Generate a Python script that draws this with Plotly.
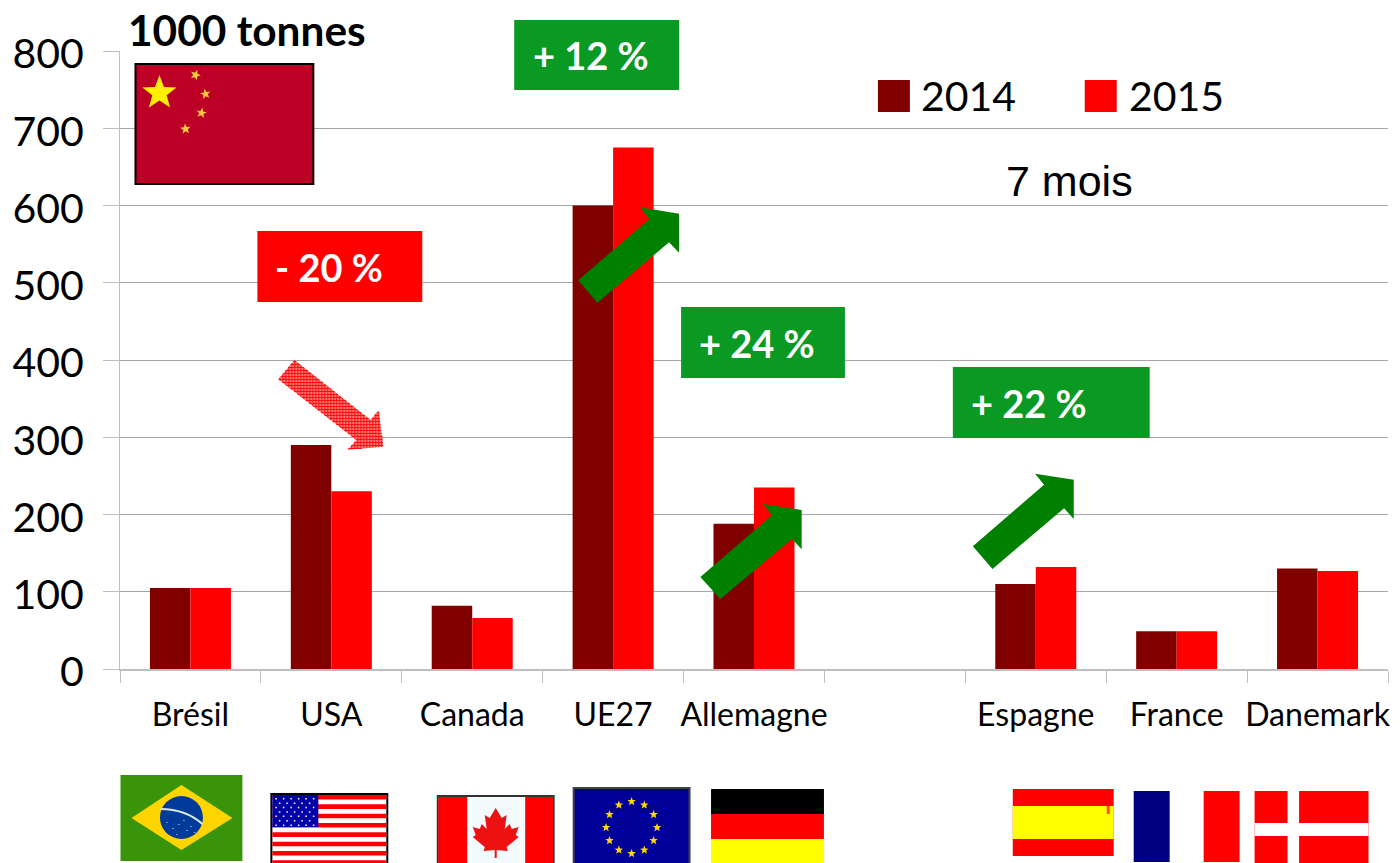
import math
import plotly.graph_objects as go

# ---- data ----
categories = ["Brésil", "USA", "Canada", "UE27", "Allemagne", " ", "Espagne", "France", "Danemark"]
values_2014 = [105, 290, 82, 600, 188, None, 110, 49, 130]
values_2015 = [105, 230, 66, 675, 235, None, 132, 49, 127]
series_names = ["2014", "2015"]
unit_label = "1000 tonnes"
period_label = "7 mois"
y_ticks = [0, 100, 200, 300, 400, 500, 600, 700, 800]

# ---- styles ----
DARK = "#800000"
RED = "#FF0000"
GREEN_BOX = "#0A9A24"
GREEN_ARROW = "#008000"
GRID = "#A6A6A6"
AXIS = "#BFBFBF"
FONT = "Lato"
L, R, T, B = 119.5, 1388.5, 51, 669


def X(x):
    return (x - L) / (R - L)


def Y(y):
    return (B - y) / (B - T)


shapes = []
annotations = []


def rect(x0, y0, x1, y1, fill, line=None, lw=0):
    shapes.append(dict(type="rect", xref="paper", yref="paper", layer="above",
                       x0=X(x0), x1=X(x1), y0=Y(y1), y1=Y(y0), fillcolor=fill,
                       line=dict(color=line or fill, width=lw)))


def poly_path(pts):
    return "M" + "L".join(f"{X(a):.5f},{Y(b):.5f}" for a, b in pts) + "Z"


def poly(pts, fill, line_w=0, line=None):
    shapes.append(dict(type="path", xref="paper", yref="paper", layer="above",
                       path=poly_path(pts), fillcolor=fill,
                       line=dict(color=line or fill, width=line_w)))


def star_pts(cx, cy, r, rx=None, rot=-90):
    rx = rx or r
    pts = []
    for i in range(10):
        rad = 1 if i % 2 == 0 else 0.42
        a = math.radians(rot + i * 36)
        pts.append((cx + rx * rad * math.cos(a), cy + r * rad * math.sin(a)))
    return pts


def star(cx, cy, r, fill, rot=-90):
    poly(star_pts(cx, cy, r, rot=rot), fill)


def text(x, y, s, size, color="black", bold=False, family=FONT):
    annotations.append(dict(xref="paper", yref="paper", x=X(x), y=Y(y), text=f"<b>{s}</b>" if bold else s,
                            showarrow=False, xanchor="left", yanchor="middle",
                            font=dict(family=family, size=size, color=color)))


def box(x0, y0, x1, y1, fill, s, tx, ty):
    rect(x0, y0, x1, y1, fill)
    text(tx, ty, s, 38, "white", True)


# legend
rect(878, 80, 910, 112, DARK)
text(919, 96, series_names[0], 41)
rect(1085, 80, 1117, 112, RED)
text(1127, 96, series_names[1], 41)
text(1004, 181, period_label, 43, family="Liberation Sans")
text(126, 29.5, unit_label, 42.4, bold=True)

# percentage boxes
box(514, 20, 679, 90, GREEN_BOX, "+ 12 %", 531, 55)
box(681, 307, 845, 378, GREEN_BOX, "+ 24 %", 697, 343)
box(953, 367, 1150, 438, GREEN_BOX, "+ 22 %", 969, 403)
box(257, 231, 422, 302, RED, "- 20 %", 273, 267)

# arrows
poly([(578, 280.3), (597.3, 302.7), (669, 242.3), (679, 252.7), (679, 213.7), (640, 207.3), (649.3, 219)], GREEN_ARROW)
poly([(700.3, 577), (720.3, 599), (792, 539), (801.7, 549.3), (801.7, 510), (763.3, 504), (772, 515.3)], GREEN_ARROW)
poly([(973, 546.3), (992.7, 569), (1064.3, 508.3), (1074, 519), (1074, 479.7), (1035.3, 473.7), (1044.3, 484.7)], GREEN_ARROW)

red_arrow = [(294, 360), (278, 379.3), (356, 440), (347.3, 449.7), (383, 446.7), (378.3, 410.3), (370.3, 420)]
poly(red_arrow, "#FF7A7A")


def scan(pts, coord, axis):
    hits = []
    n = len(pts)
    for i in range(n):
        a, b = pts[i], pts[(i + 1) % n]
        if (a[axis] <= coord) != (b[axis] <= coord):
            t = (coord - a[axis]) / (b[axis] - a[axis])
            hits.append(a[1 - axis] + t * (b[1 - axis] - a[1 - axis]))
    hits.sort()
    return [(hits[i], hits[i + 1]) for i in range(0, len(hits) - 1, 2)]


hatch = []
for yy in range(361, 450, 3):
    for s0, s1 in scan(red_arrow, yy + 0.5, 1):
        hatch.append(f"M{X(s0):.5f},{Y(yy + .5):.5f}L{X(s1):.5f},{Y(yy + .5):.5f}")
for xx in range(279, 383, 3):
    for s0, s1 in scan(red_arrow, xx + 0.5, 0):
        hatch.append(f"M{X(xx + .5):.5f},{Y(s0):.5f}L{X(xx + .5):.5f},{Y(s1):.5f}")
shapes.append(dict(type="path", xref="paper", yref="paper", layer="above", path="".join(hatch),
                   line=dict(color="#FF1010", width=1)))

# China flag
rect(135, 64, 313, 184, "#BD0026", "black", 2)
star(159, 93, 18, "#FFF000")
for cx, cy, rot in [(195, 75, -70), (205, 94, -100), (201, 113, -80), (185, 129, -95)]:
    star(cx, cy, 5.5, "#F8C840", rot)

# Brazil flag
rect(120, 775, 242, 861, "#3A9409")
poly([(131, 818), (181, 785), (232, 818), (181, 850)], "#FFD500")
shapes.append(dict(type="circle", xref="paper", yref="paper", layer="above", x0=X(159.5), x1=X(202.5),
                   y0=Y(839), y1=Y(796), fillcolor="#003B9B", line=dict(width=0)))
shapes.append(dict(type="path", xref="paper", yref="paper", layer="above",
                   path=f"M{X(160):.5f},{Y(809):.5f}Q{X(185):.5f},{Y(809):.5f} {X(202):.5f},{Y(824):.5f}",
                   line=dict(color="#DDE8DD", width=2)))
for dx, dy in [(166, 822), (172, 828), (178, 824), (186, 830), (190, 826), (176, 834), (183, 820), (194, 832)]:
    rect(dx, dy, dx + 1, dy + 1, "#E0E8F0")

# USA flag
rect(271, 794, 387, 870, "white", "black", 2)
for i in range(8):
    y0 = 795 + i * 9.33
    rect(272, y0, 386, min(y0 + 4.6, 863), RED)
rect(272, 795, 318, 827, "#0000A8")
dots = []
for row in range(7):
    for col in range(6):
        dx = 275 + col * 7.5 + (3.5 if row % 2 else 0)
        dy = 798 + row * 4.4
        if dx < 316:
            dots.append(poly_path([(dx, dy), (dx + 1.5, dy), (dx + 1.5, dy + 1.5), (dx, dy + 1.5)]))
shapes.append(dict(type="path", xref="paper", yref="paper", layer="above", path="".join(dots),
                   fillcolor="white", line=dict(width=0)))

# Canada flag
rect(437.5, 796, 553.5, 870, "#F4FBFD", "#333333", 2)
rect(438, 797, 467, 863, RED)
rect(525, 797, 553, 863, RED)
leaf_dx = [0, 6, 11, 9, 14, 16, 23, 20, 23, 11, 12, 1, 1, -1, -1, -12, -11, -23, -20, -23, -16, -14, -9, -11, -6]
leaf_y = [808, 818, 815, 829, 824, 829, 827, 835, 837, 847, 851, 850, 858, 858, 850, 851, 847, 837, 835, 827, 829, 824, 829, 815, 818]
poly([(495.5 + a, b) for a, b in zip(leaf_dx, leaf_y)], "#EE1111")

# EU flag
rect(573.5, 788, 689.5, 870, "#000099", "#444444", 2)
for i in range(12):
    a = math.radians(i * 30 - 90)
    star(631.5 + 25.5 * math.cos(a), 827.5 + 26 * math.sin(a), 4.5, "#FFD800")

# Germany flag
rect(711, 789, 824, 814, "black")
rect(711, 814, 824, 839, RED)
rect(711, 839, 824, 870, "#FFFF00")

# Spain flag
rect(1013, 789, 1114, 856, RED)
rect(1013, 806, 1114, 839, "#FFFF00")
rect(1107, 806, 1110, 814, "#FF5010")

# France flag
rect(1134, 791, 1170, 862, "#000080")
rect(1204, 791, 1240, 862, RED)

# Denmark flag
rect(1255, 791, 1369, 870, RED)
rect(1288, 791, 1299.5, 870, "white")
rect(1255, 823, 1369, 836, "white")

fig = go.Figure()
fig.add_bar(name=series_names[0], x=categories, y=values_2014, marker=dict(color=DARK, line_width=0))
fig.add_bar(name=series_names[1], x=categories, y=values_2015, marker=dict(color=RED, line_width=0))

fig.update_layout(
    width=1400, height=863, autosize=False, showlegend=False, barmode="group",
    bargap=0.425, bargroupgap=0, paper_bgcolor="white", plot_bgcolor="white",
    margin=dict(l=L, r=1400 - R, t=T, b=863 - B, autoexpand=False),
    shapes=shapes, annotations=annotations,
    font=dict(family=FONT, color="black"),
)
fig.update_xaxes(type="category", categoryorder="array", categoryarray=categories, tickson="boundaries",
                 ticks="outside", ticklen=12, tickwidth=1, tickcolor=AXIS, showline=True,
                 linecolor=AXIS, linewidth=2, showgrid=False, tickangle=0,
                 tickfont=dict(family=FONT, size=32), ticklabelstandoff=17)
fig.update_yaxes(range=[0, 800], tickmode="array", tickvals=y_ticks, ticks="outside", ticklen=16, tickwidth=1,
                 tickcolor=AXIS, showline=True, linecolor=AXIS, linewidth=1, gridcolor=GRID, gridwidth=1,
                 zeroline=False, tickfont=dict(family=FONT, size=41), ticklabelstandoff=11, ticklabelshift=3)
fig.write_html("out.html", config=dict(displayModeBar=False),
               post_script="document.body.style.margin='0';document.documentElement.style.overflow='hidden';")
